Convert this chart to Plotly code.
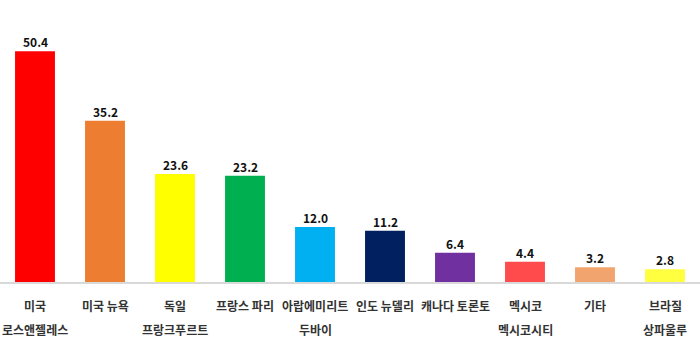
import plotly.graph_objects as go

line1 = ["미국", "미국 뉴욕", "독일", "프랑스 파리", "아랍에미리트", "인도 뉴델리", "캐나다 토론토", "멕시코", "기타", "브라질"]
line2 = ["로스앤젤레스", "", "프랑크푸르트", "", "두바이", "", "", "멕시코시티", "", "상파울루"]
values = [50.4, 35.2, 23.6, 23.2, 12.0, 11.2, 6.4, 4.4, 3.2, 2.8]
colors = ["#FF0000", "#ED7D31", "#FFFF00", "#00B050", "#00B0F0", "#002060",
          "#7030A0", "#FF4B4B", "#F2A46E", "#FFFF40"]

cats = [f"c{i}" for i in range(len(values))]
font = "Noto Sans CJK KR, Malgun Gothic, sans-serif"

fig = go.Figure(go.Bar(
    x=cats, y=values,
    marker=dict(color=colors, line=dict(width=0)),
    width=0.57,
    hoverinfo="skip",
))

annotations = []
for c, v in zip(cats, values):
    annotations.append(dict(x=c, xref="x", y=v, yref="y", text=f"{v:.1f}",
                            showarrow=False, yanchor="bottom", yshift=-1,
                            font=dict(family=font, size=12, color="#111111", weight="bold")))
for c, a, b in zip(cats, line1, line2):
    annotations.append(dict(x=c, xref="x", y=-0.082, yref="paper", text=a,
                            showarrow=False, yanchor="middle",
                            font=dict(family=font, size=12, color="#333333", weight="bold")))
    if b:
        annotations.append(dict(x=c, xref="x", y=-0.17, yref="paper", text=b,
                                showarrow=False, yanchor="middle",
                                font=dict(family=font, size=12, color="#333333", weight="bold")))

fig.update_layout(
    width=700, height=352,
    margin=dict(l=0, r=0, t=0, b=70),
    plot_bgcolor="white", paper_bgcolor="white",
    showlegend=False,
    annotations=annotations,
    xaxis=dict(showticklabels=False, ticks="", showgrid=False,
               showline=True, linecolor="#D9D9D9", linewidth=2, range=[-0.5, 9.5]),
    yaxis=dict(visible=False, range=[0, 61.6]),
    bargap=0.43,
)

fig.write_html("out.html")
